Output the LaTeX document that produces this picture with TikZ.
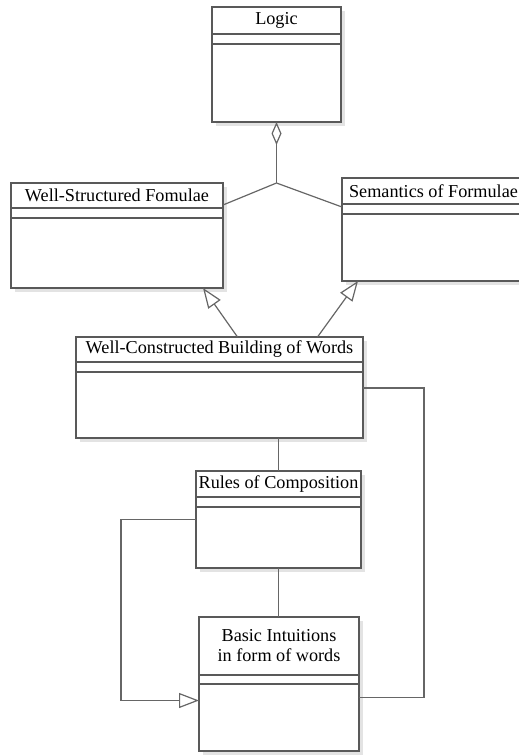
\documentclass[tikz,border=0pt]{standalone}
\usepackage{fontspec}
\setmainfont{Liberation Serif}
\usetikzlibrary{positioning,arrows.meta,shadows}
\tikzstyle{ClassHead}=[rectangle, draw=black!65, fill=white, line width=1.3pt, inner sep=0pt, outer sep=0pt, anchor=north west, align=center, font=\fontsize{18.2}{20}\selectfont, drop shadow={fill=black!11, opacity=1, shadow xshift=4pt, shadow yshift=-4pt}]
\tikzstyle{ClassAttr}=[rectangle, draw=black!65, fill=white, line width=1.3pt, inner sep=0pt, outer sep=0pt, minimum height=10pt, drop shadow={fill=black!11, opacity=1, shadow xshift=4pt, shadow yshift=-4pt}]
\tikzstyle{ClassBody}=[rectangle, draw=black!65, fill=white, line width=1.3pt, inner sep=0pt, outer sep=0pt, drop shadow={fill=black!11, opacity=1, shadow xshift=4pt, shadow yshift=-4pt}]
\tikzstyle{Link}=[draw=black!60, line width=1.2pt]
\tikzstyle{Herencia}=[Link, -{Triangle[open, length=20pt, width=15pt]}]
\tikzstyle{Agregacion}=[Link, {Diamond[open, length=23pt, width=10pt]}-]

\begin{document}
\begin{tikzpicture}[x=1pt, y=-1pt]
			\useasboundingbox (0,0) rectangle (519,755);
			\clip (0,0) rectangle (519,755);

			%Clases
			\node[ClassHead, minimum width=129pt, minimum height=27pt]	(logic_head)	at (212,7)		{Logic};
			\node[ClassAttr, minimum width=129pt]					(logic_attr)	[below=0pt of logic_head]	{};
			\node[ClassBody, minimum width=129pt, minimum height=78pt]	(logic_body)	[below=0pt of logic_attr]	{};

			\node[ClassHead, minimum width=212pt, minimum height=25pt]	(wsf_head)		at (11,183)		{Well-Structured Fomulae};
			\node[ClassAttr, minimum width=212pt]					(wsf_attr)		[below=0pt of wsf_head]		{};
			\node[ClassBody, minimum width=212pt, minimum height=70pt]	(wsf_body)		[below=0pt of wsf_attr]		{};

			\node[ClassHead, minimum width=183pt, minimum height=26pt]	(sem_head)		at (342,178)	{Semantics of Formulae};
			\node[ClassAttr, minimum width=183pt]					(sem_attr)		[below=0pt of sem_head]		{};
			\node[ClassBody, minimum width=183pt, minimum height=67pt]	(sem_body)		[below=0pt of sem_attr]		{};

			\node[ClassHead, minimum width=287pt, minimum height=25pt]	(wcb_head)		at (76,337)		{Well-Constructed Building of Words};
			\node[ClassAttr, minimum width=287pt]					(wcb_attr)		[below=0pt of wcb_head]		{};
			\node[ClassBody, minimum width=287pt, minimum height=66pt]	(wcb_body)		[below=0pt of wcb_attr]		{};

			\node[ClassHead, minimum width=165pt, minimum height=26pt]	(rules_head)	at (196,471)	{Rules of Composition};
			\node[ClassAttr, minimum width=165pt]					(rules_attr)	[below=0pt of rules_head]	{};
			\node[ClassBody, minimum width=165pt, minimum height=61pt]	(rules_body)	[below=0pt of rules_attr]	{};

			\node[ClassHead, minimum width=160pt, minimum height=58pt]	(basic_head)	at (199,617)	{Basic Intuitions\\in form of words};
			\node[ClassAttr, minimum width=160pt, minimum height=9pt]	(basic_attr)	[below=0pt of basic_head]	{};
			\node[ClassBody, minimum width=160pt, minimum height=67pt]	(basic_body)	[below=0pt of basic_attr]	{};

			%Lineas
			\coordinate (union) at ([yshift=-61pt]logic_body.south);
			\draw[Agregacion] (logic_body.south) -- (union);
			\draw[Link] (union) -- ([yshift=3pt]wsf_head.south east);
			\draw[Link] (union) -- ([yshift=-3pt]sem_head.south west);
			\draw[Herencia] ([xshift=18pt]wcb_head.north) -- ([xshift=-20pt]wsf_body.south east);
			\draw[Herencia] ([xshift=98pt]wcb_head.north) -- ([xshift=16pt]sem_body.south west);
			\draw[Link] (wcb_body.south -| rules_head.north) -- (rules_head.north);
			\draw[Link] (rules_body.south) -- (rules_body.south |- basic_head.north);
			\draw[Link] ([yshift=17pt]wcb_body.east) -- ++(61pt,0) |- ([yshift=20pt]basic_body.east);
			\draw[Herencia] ([yshift=18pt]rules_body.west) -- ++(-75pt,0) |- ([yshift=17pt]basic_body.west);

		\end{tikzpicture}
\end{document}
